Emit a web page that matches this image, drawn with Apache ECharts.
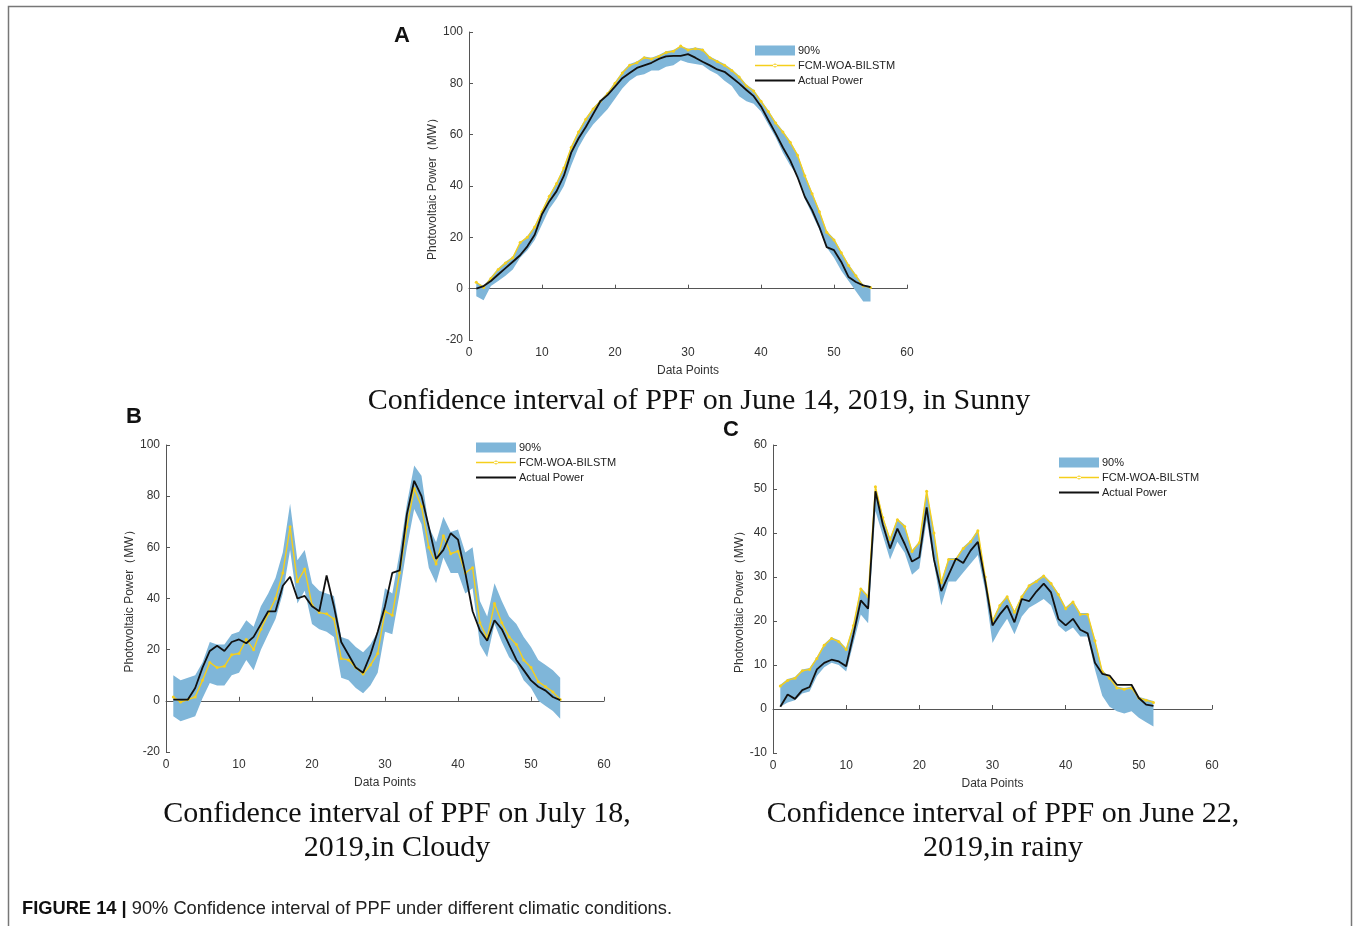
<!DOCTYPE html>
<html>
<head>
<meta charset="utf-8">
<script src="https://cdn.jsdelivr.net/npm/echarts@6/dist/echarts.min.js"></script>
<style>
  html, body { margin: 0; padding: 0; background: #fff; }
  #main { width: 1356px; height: 926px; }
</style>
</head>
<body>
<div id="main"></div>
<script>
// ---- panel A : sunny, June 14 2019 ----
const sunnyActual = [0, 1, 3, 5.5, 8, 10.5, 13, 16.5, 21, 29, 34, 38, 44, 53, 58.5, 63, 68, 73, 75.5, 78.7,
  82, 84, 86, 87, 88, 89.5, 90.5, 90.7, 90.7, 91.4, 90, 88.4, 87, 85.4, 84.5, 82.3, 80, 77.4, 75, 71,
  65.7, 60.5, 55, 50, 43.5, 35.8, 30.6, 24, 16.2, 15, 10.4, 4.5, 2.6, 1.3, 0.6];
const sunnyPred = [2.5, 0.5, 4, 7.5, 10, 12, 18, 20, 24, 30, 36, 41, 47, 55, 61, 66, 70, 73, 76, 80,
  84, 87, 88, 90, 89.5, 90.5, 92, 92.5, 94.5, 93, 93.5, 93, 90, 88.5, 87, 85, 82.5, 79, 77, 73,
  69, 64.5, 61, 57, 52, 44, 37, 30, 22, 19, 14, 9, 5, 1, 0.5];
const sunnyUpper = [2.5, 1, 4.5, 8, 10.5, 12.5, 18, 20.5, 24.5, 30.5, 36.5, 41.5, 47.5, 55.5, 61.5, 66.5, 70.5, 73.5, 76.5, 80.5,
  84.5, 87.5, 88.5, 90.5, 90, 91, 92.5, 93, 94.5, 93.5, 94, 93.5, 90.5, 89, 87.5, 85.5, 83, 79.5, 77.5, 73.5,
  69.5, 65, 61.5, 57.5, 52.5, 44.5, 37.5, 30.5, 22.5, 19.5, 14.5, 9.5, 5.5, 1.5, 1];
const sunnyLower = [-3, -4.5, 1, 3, 5, 7.5, 12, 15, 19, 25, 31, 35, 40, 48, 55, 60, 64, 67, 70, 74,
  78, 81, 83, 83.5, 85, 85, 86.5, 87, 89, 88, 87.5, 87, 85, 83.5, 81, 79, 75, 73, 72, 69,
  64, 59, 53, 48, 44, 35, 29, 23, 16, 12, 7, 3, -1, -5, -5];

// ---- panel B : cloudy, July 18 2019 ----
const cloudyActual = [0.5, 0.5, 0.5, 5, 13, 19.5, 21.5, 19.5, 23, 24, 22.5, 25, 30, 35, 35, 45, 48.5, 40, 41, 37,
  35, 49, 37, 23, 18, 13, 11, 18, 27, 37, 50, 51, 73, 86, 80, 68, 55.5, 59, 65.5, 63,
  50, 35, 27.5, 23.5, 31.5, 28, 22, 16, 12, 8, 5.5, 4, 1.5, 0.3];
const cloudyPred = [1.5, -0.5, 0.5, 1.5, 8, 15, 13, 13.5, 18, 18.5, 24, 20, 28, 34, 40, 50, 68, 46.5, 51.5, 37.5,
  34.5, 34, 32, 16.5, 16, 13, 10.5, 14, 18.5, 35, 33.5, 50, 68, 83, 76, 60, 53.5, 64.5, 57.5, 58.5,
  50, 52, 30.5, 24.5, 38, 30.5, 25, 22, 16, 13, 7.5, 5.5, 3.5, 0.5];
const cloudyUpper = [10, 8, 9, 10, 15, 23, 22, 22, 26, 27, 31.5, 29, 37, 42, 48, 58, 77, 55, 59, 46,
  43, 42, 41, 25, 24, 21, 19, 22, 27, 44, 42, 58, 77, 92, 88, 68, 62, 72, 66, 67,
  58, 60, 39, 33, 46, 39, 33, 30, 25, 21, 16, 14, 12, 9];
const cloudyLower = [-6, -8, -7, -6, 1, 7, 6, 6, 10, 11, 16, 12, 20, 26, 32, 42, 59, 38, 43, 30,
  28, 27, 25, 9, 8, 5, 3, 6, 11, 27, 26, 42, 60, 75, 69, 52, 46, 56, 50, 50,
  42, 44, 22, 17, 30, 23, 17, 14, 8, 5, 0, -2, -4, -7];

// ---- panel C : rainy, June 22 2019 ----
const rainyActual = [0.5, 3.3, 2.3, 4.3, 5, 9, 10.5, 11.2, 10.8, 9.7, 17, 24.7, 22.8, 49.5, 42, 36.5, 41, 37.5, 33.5, 34.5,
  45.8, 34, 26.8, 30.5, 34.2, 33.2, 36, 38, 29, 19, 21.5, 23.5, 19.7, 25, 24.5, 26.7, 28.5, 26.5, 20.5, 19,
  20.5, 18, 17.2, 10.5, 8, 7.6, 5.5, 5.5, 5.5, 2.5, 1, 0.7];
const rainyPred = [5.2, 6.5, 7, 8.7, 9, 11.5, 14.5, 16, 15.3, 13.5, 19, 27.3, 25.5, 50.5, 43.5, 38.5, 43, 41.5, 35.8, 37.8,
  49.5, 40, 28.7, 34, 34, 36.5, 38, 40.5, 30, 20, 23.5, 25.5, 22, 25.5, 28, 29, 30.2, 28.5, 26, 22.8,
  24.3, 21.5, 21.5, 15.5, 8.5, 7, 4.8, 4.5, 4.8, 2.5, 2, 1.5];
const rainyUpper = [5.5, 6.8, 7.3, 9, 9.3, 11.8, 14.8, 16.3, 15.6, 13.8, 19.3, 27.6, 25.8, 50.8, 43.8, 38.8, 43.3, 41.8, 36.1, 38.1,
  49.8, 40.3, 29, 34.3, 34.3, 36.8, 38.3, 40.8, 30.3, 20.3, 23.8, 25.8, 22.3, 25.8, 28.3, 29.3, 30.5, 28.8, 26.3, 23.1,
  24.6, 21.8, 21.8, 15.8, 8.8, 7.3, 5.1, 4.8, 5.1, 2.8, 2.3, 1.8];
const rainyLower = [0.5, 1.5, 2, 3.5, 4, 7.5, 9.5, 10.5, 10, 8.5, 15, 21.5, 19.5, 45, 39.5, 34, 38, 35.5, 30.5, 32,
  43, 33, 23.5, 29, 29, 31, 33, 35, 27, 15, 18, 20.5, 17, 21, 23, 24, 25, 23.5, 19, 17.5,
  18.5, 16.5, 16.5, 9, 3, 0.5, -0.5, -1, -0.5, -2, -3, -4];

const xTicks = [0, 10, 20, 30, 40, 50, 60];

const BAND = '#7fb6d9';
const PRED = '#f5cf1c';
const ACT = '#111111';

const grids = [
  { left: 469, top: 32, width: 438, height: 308 },
  { left: 166, top: 445, width: 438, height: 307 },
  { left: 773, top: 445, width: 439, height: 308 },
];
const yRanges = [
  { min: -20, max: 100, interval: 20 },
  { min: -20, max: 100, interval: 20 },
  { min: -10, max: 60, interval: 10 },
];
const yNameGaps = [25, 27, 24];
const panels = [
  { actual: sunnyActual, pred: sunnyPred, upper: sunnyUpper, lower: sunnyLower },
  { actual: cloudyActual, pred: cloudyPred, upper: cloudyUpper, lower: cloudyLower },
  { actual: rainyActual, pred: rainyPred, upper: rainyUpper, lower: rainyLower },
];

const pts = (arr) => arr.map((v, i) => [i + 1, v]);

const axisLine = { show: true, lineStyle: { color: '#555', width: 1 } };
const axisTick = { show: true, inside: true, length: 4, lineStyle: { color: '#555' } };
const labelFont = { color: '#333', fontSize: 12, fontFamily: 'Liberation Sans, Arial, sans-serif' };

const xAxes = grids.map((g, i) => ({
  type: 'value',
  gridIndex: i,
  min: xTicks[0],
  max: xTicks[xTicks.length - 1],
  interval: 10,
  name: 'Data Points',
  nameLocation: 'middle',
  nameGap: 25,
  nameTextStyle: labelFont,
  axisLine,
  axisTick,
  splitLine: { show: false },
  axisLabel: { ...labelFont, margin: 7 },
}));

const yAxes = grids.map((g, i) => ({
  type: 'value',
  gridIndex: i,
  min: yRanges[i].min,
  max: yRanges[i].max,
  interval: yRanges[i].interval,
  name: 'Photovoltaic Power（MW）',
  nameLocation: 'middle',
  nameGap: yNameGaps[i],
  nameTextStyle: labelFont,
  axisLine,
  axisTick,
  splitLine: { show: false },
  axisLabel: { ...labelFont, margin: 6 },
}));

// confidence band: one polygon, upper edge forward then lower edge back
const renderBand = (params, api) => {
  if (params.dataIndexInside !== 0) return null;
  const n = params.dataInsideLength;
  const top = [];
  const bottom = [];
  for (let k = 0; k < n; k++) {
    top.push(api.coord([api.value(0, k), api.value(2, k)]));
    bottom.push(api.coord([api.value(0, k), api.value(1, k)]));
  }
  return {
    type: 'polygon',
    shape: { points: top.concat(bottom.reverse()) },
    style: { fill: BAND },
    silent: true,
  };
};

const series = [];
panels.forEach((p, i) => {
  series.push({
    name: '90%',
    type: 'custom',
    xAxisIndex: i, yAxisIndex: i,
    data: p.lower.map((lo, k) => [k + 1, lo, p.upper[k]]),
    encode: { x: 0, y: [1, 2] },
    color: BAND,
    renderItem: renderBand,
    z: 1,
  });
  series.push({
    name: 'FCM-WOA-BILSTM',
    type: 'line',
    xAxisIndex: i, yAxisIndex: i,
    data: pts(p.pred),
    color: PRED,
    symbol: 'circle',
    symbolSize: 3,
    lineStyle: { color: PRED, width: 1.4 },
    z: 2,
  });
  series.push({
    name: 'Actual Power',
    type: 'line',
    xAxisIndex: i, yAxisIndex: i,
    data: pts(p.actual),
    color: ACT,
    symbol: 'none',
    lineStyle: { color: ACT, width: 1.8 },
    z: 3,
  });
});

const legendPos = [
  { left: 755, top: 45 },
  { left: 476, top: 442 },
  { left: 1059, top: 457 },
];
const legends = legendPos.map((pos) => ({
  ...pos,
  padding: 0,
  orient: 'vertical',
  itemWidth: 40,
  itemHeight: 10,
  itemGap: 4,
  textStyle: { fontSize: 11, color: '#222', fontFamily: 'Liberation Sans, Arial, sans-serif', padding: [0, 0, 0, -2] },
  data: [
    { name: '90%', icon: 'rect' },
    { name: 'FCM-WOA-BILSTM', icon: 'path://M0,1.3 L40,1.3 L40,2.7 L0,2.7 Z M18,2 A2,2 0 1 0 22,2 A2,2 0 1 0 18,2 Z' },
    { name: 'Actual Power', icon: 'path://M0,0 L40,0 L40,1.8 L0,1.8 Z' },
  ],
  selectedMode: false,
}));

const serif = 'Liberation Serif, "Times New Roman", serif';
const letterFont = 'bold 22px Liberation Sans, Arial, sans-serif';
const titleText = (text, x, y) => ({
  type: 'text', x, y,
  style: { text, font: '30px ' + serif, fill: '#111', textAlign: 'center', textVerticalAlign: 'middle' },
});

const option = {
  animation: false,
  backgroundColor: '#fff',
  grid: grids,
  xAxis: xAxes,
  yAxis: yAxes,
  legend: legends,
  series,
  graphic: [
    { type: 'rect', shape: { x: 8.5, y: 6.5, width: 1343, height: 940 }, style: { fill: 'none', stroke: '#777', lineWidth: 1.5 }, silent: true },
    { type: 'text', x: 402, y: 36, style: { text: 'A', font: letterFont, fill: '#111', textAlign: 'center', textVerticalAlign: 'middle' } },
    { type: 'text', x: 134, y: 417, style: { text: 'B', font: letterFont, fill: '#111', textAlign: 'center', textVerticalAlign: 'middle' } },
    { type: 'text', x: 731, y: 430, style: { text: 'C', font: letterFont, fill: '#111', textAlign: 'center', textVerticalAlign: 'middle' } },
    titleText('Confidence interval of PPF on June 14, 2019, in Sunny', 699, 401),
    titleText('Confidence interval of PPF on July 18,', 397, 814),
    titleText('2019,in Cloudy', 397, 848),
    titleText('Confidence interval of PPF on June 22,', 1003, 814),
    titleText('2019,in rainy', 1003, 848),
    {
      type: 'text', x: 22, y: 909,
      style: {
        text: '{b|FIGURE 14 |} 90% Confidence interval of PPF under different climatic conditions.',
        font: '18.3px "Liberation Sans", Arial, sans-serif',
        fill: '#222',
        textVerticalAlign: 'middle',
        rich: { b: { font: 'bold 18.3px "Liberation Sans", Arial, sans-serif', fill: '#111' } },
      },
    },
  ],
};

const myChart = echarts.init(document.getElementById('main'));
myChart.setOption(option);
window.addEventListener('resize', () => myChart.resize());
</script>
</body>
</html>
